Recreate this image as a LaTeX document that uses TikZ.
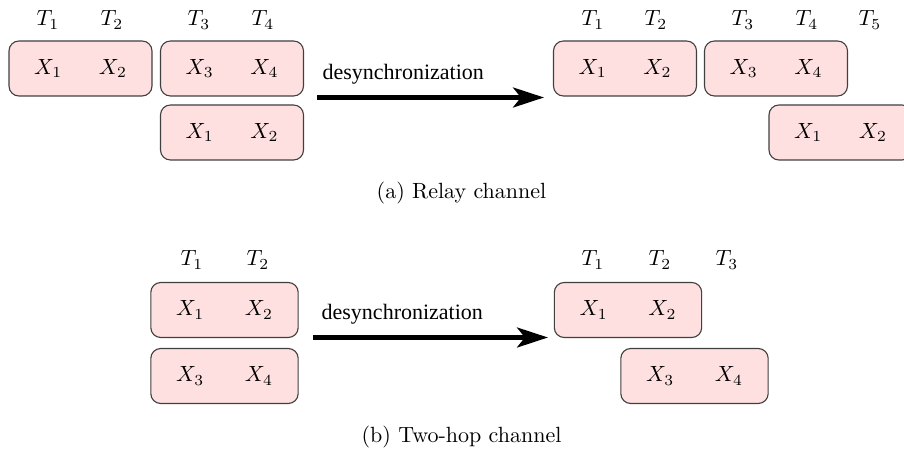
\documentclass[tikz,border=0pt]{standalone}
\usepackage{amsmath}
\usepackage{fontspec}
\newfontfamily\arrowfont{Liberation Serif}
\usetikzlibrary{positioning,arrows.meta}

\begin{document}
\begin{tikzpicture}[x=0.4546pt, y=-0.4546pt, node distance=30pt,
  frame/.style={rectangle, draw=black!75, line width=0.5pt, fill=red!12, rounded corners=4.5pt, minimum width=#1, minimum height=25pt, inner sep=0pt},
  frame/.default=65pt,
  tlabel/.style={inner sep=1pt},
  desync/.style={line width=2.2pt, -{Stealth[length=14pt, width=9pt, inset=3.5pt]}}]

\useasboundingbox (0,0) rectangle (904,455);

% (a) relay channel
\foreach \t/\x in {1/48, 2/112, 3/199, 4/263}
  \node[tlabel] (ra-t\t) at (\x,20) {$T_{\t}$};
\node[frame] (ra) at (80.5,68.5) {$X_1$\hspace{16.7pt}$X_2$};
\node[frame] (rb) at (232,68.5) {$X_3$\hspace{16.7pt}$X_4$};
\node[frame] (rc) at (232,132.5) {$X_1$\hspace{16.7pt}$X_2$};

\coordinate (ra-s) at (317,97.5);
\coordinate (ra-e) at (544,97.5);
\draw[desync] (ra-s) -- node[above=1.6pt, pos=0.38] {\arrowfont desynchronization} (ra-e);

\foreach \t/\x in {1/593, 2/656, 3/743, 4/807, 5/870}
  \node[tlabel] (rd-t\t) at (\x,20) {$T_{\t}$};
\node[frame] (rd) at (625,68.5) {$X_1$\hspace{16.7pt}$X_2$};
\node[frame] (re) at (776,68.5) {$X_3$\hspace{16.7pt}$X_4$};
\node[frame] (rf) at (840.5,132.5) {$X_1$\hspace{16.7pt}$X_2$};

\node (cap-a) at (461.5,193) {(a) Relay channel};

% (b) two-hop channel
\foreach \t/\x in {1/192, 2/258}
  \node[tlabel] (tg-t\t) at (\x,260) {$T_{\t}$};
\node[frame=67pt] (tg) at (224.5,310) {$X_1$\hspace{18.5pt}$X_2$};
\node[frame=67pt] (th) at (224.5,376) {$X_3$\hspace{18.5pt}$X_4$};

\coordinate (tg-s) at (313,337.5);
\coordinate (tg-e) at (548,337.5);
\draw[desync] (tg-s) -- node[above=1.6pt, pos=0.38] {\arrowfont desynchronization} (tg-e);

\foreach \t/\x in {1/593, 2/660, 3/727}
  \node[tlabel] (ti-t\t) at (\x,260) {$T_{\t}$};
\node[frame=67pt] (ti) at (628,310) {$X_1$\hspace{18.5pt}$X_2$};
\node[frame=67pt] (tj) at (694.5,376) {$X_3$\hspace{18.5pt}$X_4$};

\node (cap-b) at (461.5,437) {(b) Two-hop channel};

\end{tikzpicture}
\end{document}
